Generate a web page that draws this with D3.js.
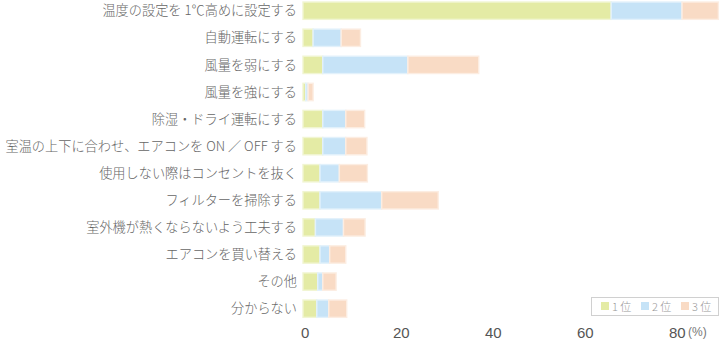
<!DOCTYPE html>
<html>
<head>
<meta charset="utf-8">
<script src="https://cdn.jsdelivr.net/npm/d3@7"></script>
<style>
  html, body { margin: 0; padding: 0; background: #fff; }
  svg { display: block; }
</style>
</head>
<body>
<svg id="chart" width="720" height="340"></svg>
<script>
// Energy-saving actions for air conditioners, ranked choices (%)
const categories = [
  "温度の設定を 1℃高めに設定する",
  "自動運転にする",
  "風量を弱にする",
  "風量を強にする",
  "除湿・ドライ運転にする",
  "室温の上下に合わせ、エアコンを ON ／ OFF する",
  "使用しない際はコンセントを抜く",
  "フィルターを掃除する",
  "室外機が熱くならないよう工夫する",
  "エアコンを買い替える",
  "その他",
  "分からない"
];
const rank1 = [67.0, 2.2, 4.3, 0.6, 4.3, 4.3, 3.7, 3.7, 2.7, 3.7, 3.2, 3.0];
const rank2 = [15.4, 6.1, 18.5, 0.5, 5.0, 5.0, 4.2, 13.4, 6.1, 2.1, 1.1, 2.6];
const rank3 = [7.9, 4.2, 15.4, 1.1, 4.1, 4.6, 6.1, 12.3, 4.7, 3.5, 2.9, 3.9];
const seriesNames = ["1 位", "2 位", "3 位"];
const tickValues = [0, 20, 40, 60, 80];

const fills = ["#e4eba5", "#c6e3f7", "#f9dbc5"];
const halos = ["#f1f5d2", "#e2f1fb", "#fcede2"];

const svg = d3.select("#chart");

const rows = categories.map((c, i) => ({ cat: c, r1: rank1[i], r2: rank2[i], r3: rank3[i] }));
const stack = d3.stack().keys(["r1", "r2", "r3"])(rows);

const x = d3.scaleLinear().domain([0, 80]).range([303, 671]);
const step = 27.09;
const y = d3.scaleBand()
  .domain(categories)
  .range([-2.85, -2.85 + step * categories.length])
  .paddingInner(0.36)
  .paddingOuter(0.18);

const font = "'Noto Sans CJK JP', 'Noto Sans', sans-serif";

// Stacked bars
const layers = svg.append("g").selectAll("g")
  .data(stack)
  .join("g")
  .attr("fill", (d, i) => fills[i])
  .attr("stroke", (d, i) => halos[i])
  .attr("stroke-width", 1.4);

layers.selectAll("rect")
  .data(d => d)
  .join("rect")
  .attr("x", d => x(d[0]))
  .attr("y", d => y(d.data.cat))
  .attr("width", d => Math.max(0, x(d[1]) - x(d[0])))
  .attr("height", y.bandwidth());

// Category labels
const yAxis = d3.axisLeft(y).tickSize(0).tickPadding(0);
const gy = svg.append("g").attr("transform", "translate(297,0)").call(yAxis);
gy.select(".domain").remove();
gy.selectAll("text")
  .attr("font-family", font)
  .attr("font-weight", 300)
  .attr("font-size", 13.2)
  .attr("fill", "#666")
  .attr("dy", "0.35em");

// Value axis labels
const xAxis = d3.axisBottom(x).tickValues(tickValues).tickSize(0).tickPadding(0);
const gx = svg.append("g").call(xAxis);
gx.select(".domain").remove();
gx.selectAll(".tick text")
  .attr("font-family", "'Liberation Sans', Arial, sans-serif")
  .attr("font-size", 15)
  .attr("fill", "#555")
  .attr("text-anchor", "start")
  .attr("x", -2.5)
  .attr("y", 338)
  .attr("dy", 0);

svg.append("text")
  .attr("x", 688)
  .attr("y", 336)
  .attr("font-family", "'Liberation Sans', Arial, sans-serif")
  .attr("font-size", 12)
  .attr("fill", "#777")
  .text("(%)");

// Legend
const lg = svg.append("g");
lg.append("rect")
  .attr("x", 591.5).attr("y", 297.5)
  .attr("width", 127).attr("height", 18)
  .attr("fill", "#fff")
  .attr("stroke", "#d0d0d0");
const items = lg.selectAll("g.item")
  .data(seriesNames)
  .join("g")
  .attr("class", "item")
  .attr("transform", (d, i) => `translate(${601 + i * 40},302)`);
items.append("rect")
  .attr("width", 8).attr("height", 8)
  .attr("fill", (d, i) => fills[i]);
items.append("text")
  .attr("x", 11).attr("y", 8.5)
  .attr("font-family", font)
  .attr("font-weight", 300)
  .attr("font-size", 11)
  .attr("fill", "#999")
  .text(d => d);
</script>
</body>
</html>
